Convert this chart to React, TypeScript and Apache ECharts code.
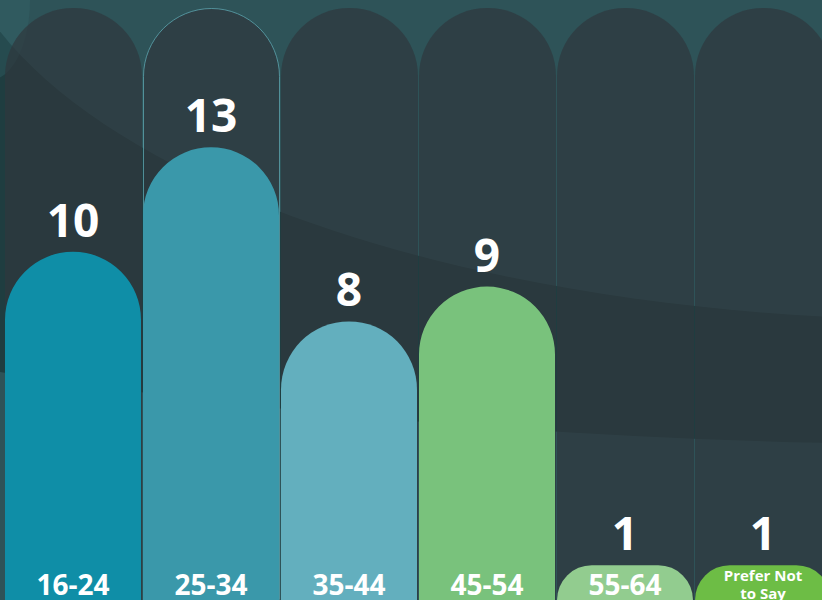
import React, { useEffect, useRef } from "react";
import * as echarts from "echarts";

const categories = ["16-24", "25-34", "35-44", "45-54", "55-64", "Prefer Not\nto Say"];
const counts = [10, 13, 8, 9, 1, 1];
const barColors = ["#0f8ea7", "#3a98aa", "#63afbe", "#79c27c", "#92cc8f", "#6dbd45"];
const axisMax = 17;

export default function App() {
  const ref = useRef<HTMLDivElement>(null);
  useEffect(() => {
    const chart = echarts.init(ref.current as HTMLDivElement, null, { renderer: "svg" });
    const font = "'Open Sans', 'DejaVu Sans', sans-serif";
    chart.setOption({
      animation: false,
      backgroundColor: "#2e5358",
      graphic: [
        { type: "ellipse", z: -3, silent: true, shape: { cx: 1000, cy: -100, rx: 2000, ry: 545 }, style: { fill: "#1f3d40" } },
        { type: "ellipse", z: -2, silent: true, shape: { cx: 950, cy: -100, rx: 1000, ry: 420 }, style: { fill: "#2e5358" } },
        { type: "ellipse", z: -1, silent: true, shape: { cx: -10, cy: 0, rx: 40, ry: 80 }, style: { fill: "#33666d", opacity: 0.35 } },
      ],
      grid: { left: 4, top: 8, width: 828, bottom: 0, containLabel: false, outerBoundsMode: "none" },
      xAxis: {
        type: "category",
        z: 10,
        data: categories.map((c) =>
          c.indexOf("\n") >= 0
            ? { value: c, textStyle: { fontSize: 15, lineHeight: 18, verticalAlign: "middle" } }
            : c
        ),
        axisLine: { show: false },
        axisTick: { show: false },
        splitLine: { show: false },
        axisLabel: {
          inside: true,
          interval: 0,
          margin: 16,
          verticalAlign: "middle",
          color: "#ffffff",
          fontFamily: font,
          fontWeight: "bold",
          fontSize: 28,
          lineHeight: 28,
        },
      },
      yAxis: { type: "value", min: 0, max: axisMax, show: false, splitLine: { show: false } },
      series: [
        {
          type: "bar",
          silent: true,
          z: 1,
          barWidth: 137,
          barGap: "-100%",
          data: categories.map((_, i) => ({
            value: axisMax,
            itemStyle:
              i === 1
                ? { borderColor: "rgba(95,170,180,0.75)", borderWidth: 1 }
                : {},
          })),
          itemStyle: { color: "rgba(47,56,61,0.7)", borderRadius: [68, 68, 0, 0] },
        },
        {
          type: "bar",
          z: 2,
          barWidth: 136,
          data: counts.map((v, i) => ({ value: v, itemStyle: { color: barColors[i] } })),
          itemStyle: { borderRadius: [68, 68, 0, 0] },
          label: {
            show: true,
            position: "top",
            distance: 10,
            color: "#ffffff",
            fontFamily: font,
            fontWeight: "bold",
            fontSize: 46,
          },
        },
      ],
    });
    return () => chart.dispose();
  }, []);
  return (
    <div
      ref={ref}
      style={{ position: "fixed", left: 0, top: 0, width: 822, height: 600 }}
    />
  );
}
